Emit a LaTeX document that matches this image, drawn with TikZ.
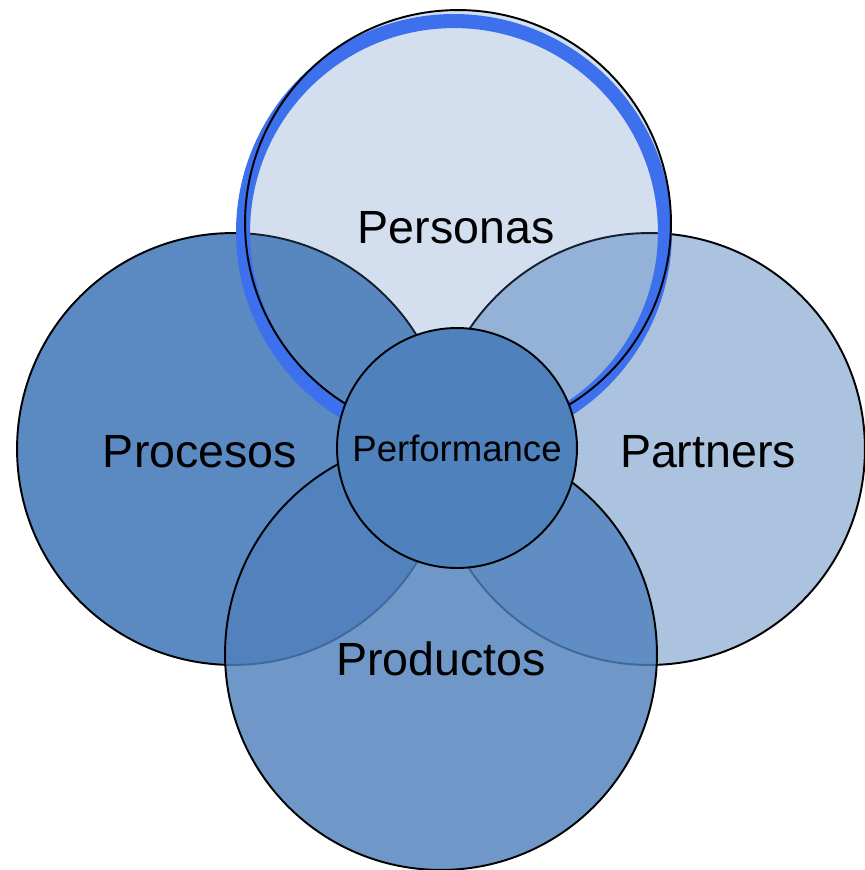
\documentclass[tikz,border=0pt]{standalone}
\usepackage{fontspec}
\setmainfont{Liberation Sans}

\definecolor{accent}{HTML}{4F81BD}
\definecolor{ringblue}{RGB}{60,112,236}

\begin{document}
\begin{tikzpicture}[
    x=0.02cm, y=-0.02cm,
    font=\fontsize{26.5}{30}\selectfont,
    petal/.style={circle, draw=black, line width=1.1pt, fill=accent, inner sep=0pt, minimum size=8.64cm},
    core/.style ={circle, draw=black, line width=1.1pt, fill=accent, inner sep=0pt, minimum size=4.8cm, font=\fontsize{20.8}{24}\selectfont},
    tag/.style  ={anchor=base, inner sep=0pt},
]
\useasboundingbox (0,0) rectangle (865,870);
% the three lower circles, each one a bit more see-through
\node[petal, fill opacity=0.93] (proc) at (233,449) {};
\node[petal, fill opacity=0.48] (part) at (649,449) {};
\node[petal, fill opacity=0.82] (prod) at (441,654) {};
% top circle: pale fill, blue ring, then its outline
\node[petal, draw=none, fill opacity=0.25, minimum size=8.52cm] (pers) at (458,223) {};
\draw[ringblue, line width=8pt] (454,232) circle (4.22cm);
\draw[line width=1.1pt] (pers.center) circle (4.26cm);
\node[core] (perf) at (457,448) {Performance};
\node[tag] (lpers) at (456,243) {Personas};
\node[tag] (lproc) at (200,467) {Procesos};
\node[tag] (lpart) at (708,467) {Partners};
\node[tag] (lprod) at (441,675) {Productos};
\end{tikzpicture}
\end{document}
